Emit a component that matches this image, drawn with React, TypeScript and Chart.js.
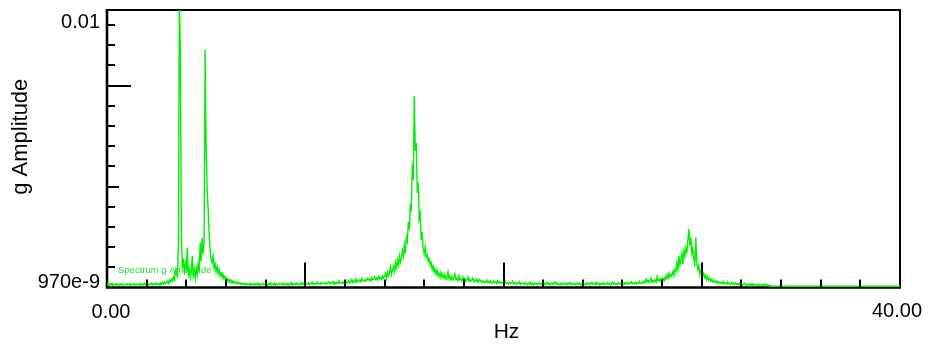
import { useEffect, useRef } from "react";
import { Chart, registerables } from "chart.js";

Chart.register(...registerables);

// ---- Data (amplitudes in units of 1e-4 g, sampled every 0.05 Hz) ----
const FREQ_START = 0;
const FREQ_STEP = 0.05;
const AMP_UNIT = 1e-4;

const ampBand0to10 = [
  0.9, 1.2, 0.7, 1.4, 1.0, 1.6, 0.8, 1.1, 1.3, 0.9, 1.5, 1.0, 1.2, 0.8, 1.4, 1.1, 0.9, 1.3, 1.0, 1.2,
  1.5, 0.9, 1.1, 1.4, 0.8, 1.2, 1.6, 1.0, 1.3, 0.9, 1.1, 1.5, 1.2, 0.8, 1.3, 1.0, 1.4, 1.1, 1.7, 1.0,
  1.2, 1.5, 0.9, 1.3, 1.1, 1.6, 1.0, 1.4, 1.2, 1.8, 1.1, 1.5, 1.3, 1.0, 1.7, 1.2, 1.9, 1.4, 2.2, 1.5,
  1.8, 2.4, 1.6, 2.8, 2.0, 3.2, 2.5, 4.0, 3.0, 6.5, 5.0, 4.2, 15.5, 110, 89.7, 22, 7.5, 11, 5.5, 9.0,
  6.0, 15, 5.0, 7.0, 3.8, 6.2, 12, 4.5, 6.8, 3.5, 7.5, 5.0, 9.0, 6.0, 17, 10, 19, 13, 18, 90.5,
  53, 38, 30, 21, 14, 11, 9.5, 12, 7.5, 9.0, 6.0, 8.0, 5.5, 7.0, 4.5, 6.0, 3.8, 5.0, 3.2, 4.2,
  2.8, 3.6, 2.4, 3.1, 2.0, 2.9, 1.8, 2.5, 1.6, 2.2, 1.9, 1.4, 2.1, 1.5, 1.8, 1.2, 1.7, 1.3, 1.6, 1.1,
  1.5, 1.0, 1.4, 1.2, 0.9, 1.6, 1.1, 1.3, 0.8, 1.5, 1.2, 1.0, 1.7, 1.1, 1.4, 0.9, 1.3, 1.6, 1.0, 1.2,
  1.4, 1.1, 0.9, 1.5, 1.2, 1.8, 1.0, 1.3, 1.1, 1.6, 0.9, 1.4, 1.2, 1.0, 1.5, 1.3, 1.1, 1.7, 1.2, 1.0,
  1.3, 1.6, 1.1, 1.4, 0.9, 1.2, 1.8, 1.0, 1.5, 1.3, 1.1, 1.7, 1.2, 1.4, 1.0, 1.6, 1.3, 1.9, 1.1, 1.4,
];

const ampBand10to20 = [
  1.2, 1.5, 1.3, 1.8, 1.1, 1.6, 1.4, 2.0, 1.2, 1.5, 1.7, 1.3, 2.1, 1.4, 1.6, 1.2, 1.9, 1.5, 1.3, 1.7,
  1.5, 1.9, 1.3, 1.7, 2.2, 1.4, 1.8, 1.6, 2.3, 1.5, 1.9, 1.4, 2.0, 1.7, 2.5, 1.6, 1.8, 2.1, 1.5, 2.0,
  1.7, 2.4, 1.6, 2.0, 2.8, 1.8, 2.2, 3.0, 1.9, 2.5, 2.1, 3.3, 2.0, 2.6, 2.3, 2.9, 2.2, 3.4, 2.5, 2.8,
  2.4, 3.1, 2.6, 3.5, 2.8, 3.2, 2.5, 3.8, 2.9, 3.3, 4.0, 3.0, 3.6, 2.8, 4.2, 3.4, 3.9, 3.1, 4.5, 3.6,
  4.0, 5.2, 3.6, 6.0, 4.4, 5.5, 7.8, 5.0, 6.5, 8.0, 6.2, 9.5, 7.4, 10.5, 8.5, 12.0, 9.5, 11.0, 14.0, 12.0,
  16.0, 13.0, 19.0, 17.5, 25.0, 22.0, 32.0, 29.0, 47.0, 41.0, 73.0, 52.0, 55.0, 36.0, 40.0, 26.0, 28.0, 18.0, 21.0, 14.5,
  13.0, 15.5, 11.5, 12.5, 10.0, 11.0, 8.5, 9.5, 7.0, 8.2, 6.0, 7.0, 5.0, 6.5, 4.5, 5.5, 3.8, 5.8, 4.0, 4.8,
  3.5, 5.0, 3.2, 4.2, 6.0, 3.4, 4.5, 3.0, 4.0, 2.8, 3.8, 5.2, 3.0, 3.6, 2.6, 4.4, 2.9, 3.3, 2.5, 3.9,
  2.7, 3.5, 2.4, 3.0, 4.0, 2.6, 3.2, 2.3, 2.9, 3.6, 2.2, 2.8, 2.5, 3.3, 2.1, 2.7, 3.1, 2.3, 2.6, 2.0,
  2.4, 1.8, 2.2, 2.9, 1.9, 2.3, 1.7, 2.6, 2.0, 1.6, 2.4, 1.9, 2.1, 1.5, 2.5, 1.8, 2.2, 1.6, 2.0, 1.7,
];

const ampBand20to30 = [
  1.9, 1.4, 2.2, 1.6, 1.8, 1.3, 2.0, 1.5, 1.7, 2.3, 1.4, 1.9, 1.6, 1.2, 1.8, 1.5, 2.1, 1.3, 1.7, 1.4,
  1.6, 1.2, 1.9, 1.4, 1.1, 1.7, 1.3, 2.0, 1.2, 1.5, 1.0, 1.8, 1.3, 1.6, 1.1, 1.4, 1.9, 1.2, 1.5, 1.0,
  1.3, 1.7, 1.1, 1.5, 1.9, 1.2, 1.6, 1.0, 1.4, 1.8, 1.2, 1.5, 2.2, 1.3, 1.7, 1.1, 1.4, 1.0, 1.6, 1.2,
  1.5, 1.1, 1.8, 1.3, 1.0, 1.6, 1.2, 1.9, 1.4, 1.1, 1.7, 1.3, 1.5, 0.9, 1.4, 1.8, 1.2, 1.6, 1.0, 1.3,
  1.7, 1.2, 1.4, 1.0, 1.8, 1.3, 1.6, 1.1, 1.5, 2.0, 1.2, 1.4, 1.7, 1.1, 1.9, 1.3, 1.5, 1.0, 1.6, 1.2,
  1.4, 1.8, 1.1, 1.5, 1.3, 1.9, 1.2, 1.6, 1.0, 1.4, 2.1, 1.3, 1.7, 1.2, 1.5, 1.1, 1.8, 1.4, 1.6, 1.3,
  1.9, 1.4, 1.7, 1.2, 2.0, 1.5, 1.3, 1.8, 1.6, 2.2, 1.4, 1.7, 1.5, 2.0, 1.3, 1.9, 1.6, 2.3, 1.5, 1.8,
  2.1, 1.6, 2.5, 1.9, 3.2, 2.2, 2.8, 1.8, 2.4, 3.6, 2.0, 2.7, 2.3, 3.0, 2.1, 4.2, 2.6, 3.1, 2.4, 3.4,
  2.8, 3.6, 2.6, 4.0, 3.2, 4.8, 3.5, 5.5, 4.0, 5.0, 4.4, 6.2, 5.0, 7.0, 6.0, 9.5, 7.0, 12.0, 8.5, 10.5,
  13.0, 9.0, 14.0, 12.0, 15.0, 13.5, 18.0, 22.4, 16.0, 19.0, 13.0, 15.0, 11.0, 8.0, 19.0, 9.0, 7.0, 8.5, 5.0, 6.5,
];

const ampBand30to40 = [
  6.0, 4.5, 5.5, 3.8, 4.6, 3.0, 4.2, 2.8, 3.5, 2.4, 3.0, 2.2, 2.8, 2.0, 2.5, 1.8, 2.4, 1.7, 2.1, 1.6,
  2.0, 1.5, 2.3, 1.4, 1.8, 1.3, 2.1, 1.5, 1.7, 1.2, 1.9, 1.4, 1.6, 1.1, 1.8, 1.3, 1.5, 1.0, 1.7, 1.2,
  1.4, 0.9, 1.2, 1.6, 0.8, 1.1, 1.4, 0.7, 1.0, 1.3, 0.8, 1.5, 0.9, 1.2, 0.7, 1.0, 1.3, 0.8, 1.1, 0.6,
  0.9, 1.2, 0.7, 1.0, 1.4, 0.8, 1.1, 0.6, 0.9, 0.7, 0.5, 0.5, 0.5, 0.5, 0.5, 0.5, 0.5, 0.5, 0.5, 0.5,
  0.5, 0.5, 0.5, 0.5, 0.5, 0.5, 0.5, 0.5, 0.5, 0.5, 0.5, 0.5, 0.5, 0.5, 0.5, 0.5, 0.5, 0.5, 0.5, 0.5,
  0.5, 0.5, 0.5, 0.5, 0.5, 0.5, 0.5, 0.5, 0.5, 0.5, 0.5, 0.5, 0.5, 0.5, 0.5, 0.5, 0.5, 0.5, 0.5, 0.5,
  0.5, 0.5, 0.5, 0.5, 0.5, 0.5, 0.5, 0.5, 0.5, 0.5, 0.5, 0.5, 0.5, 0.5, 0.5, 0.5, 0.5, 0.5, 0.5, 0.5,
  0.5, 0.5, 0.5, 0.5, 0.5, 0.5, 0.5, 0.5, 0.5, 0.5, 0.5, 0.5, 0.5, 0.5, 0.5, 0.5, 0.5, 0.5, 0.5, 0.5,
  0.5, 0.5, 0.5, 0.5, 0.5, 0.5, 0.5, 0.5, 0.5, 0.5, 0.5, 0.5, 0.5, 0.5, 0.5, 0.5, 0.5, 0.5, 0.5, 0.5,
  0.5, 0.5, 0.5, 0.5, 0.5, 0.5, 0.5, 0.5, 0.5, 0.5, 0.5, 0.5, 0.5, 0.5, 0.5, 0.5, 0.5, 0.5, 0.5, 0.5,
  0.5,
];

// ---- Axes ----
const X_MIN = 0;
const X_MAX = 40;
const Y_MIN = 970e-9;
const Y_MAX = 0.01057;
const Y_TOP_TICK = 0.01;
const Y_TICK_DIVISIONS = 13;
const Y_MAJOR_INDEX = 10;
const Y_MID_INDEX = 5;
const xMinorTicks = [2, 4, 6, 8, 12, 14, 16, 18, 22, 24, 26, 28, 32, 34, 36, 38];
const xMajorTicks = [10, 20, 30];
const xTickLabels = ["0.00", "40.00"];
const yTickLabels = ["970e-9", "0.01"];
const xTitle = "Hz";
const yTitle = "g Amplitude";
const legendLabel = "Spectrum g Amplitude";

const LINE_COLOR = "rgb(0, 240, 0)";
const TICK_FONT = '20px "Liberation Sans"';
const X_TITLE_FONT = '21px "Liberation Sans"';
const Y_TITLE_FONT = '22px "Liberation Sans"';

const spectrumAmps = [...ampBand0to10, ...ampBand10to20, ...ampBand20to30, ...ampBand30to40];
const spectrumPoints = spectrumAmps.map((v, i) => ({
  x: FREQ_START + i * FREQ_STEP,
  y: v * AMP_UNIT,
}));

const framePlugin = {
  id: "framePlugin",
  beforeDatasetsDraw(chart: any) {
    const { ctx, chartArea } = chart;
    const { left, right, top, bottom } = chartArea;
    ctx.save();
    ctx.strokeStyle = "#000";
    ctx.lineWidth = 2;
    ctx.beginPath();
    ctx.moveTo(left, top);
    ctx.lineTo(right, top);
    ctx.lineTo(right, bottom);
    ctx.stroke();
    ctx.lineWidth = 2.6;
    ctx.beginPath();
    ctx.moveTo(left, top - 1);
    ctx.lineTo(left, bottom);
    ctx.lineTo(right + 1, bottom);
    ctx.stroke();
    ctx.restore();
  },
  afterDatasetsDraw(chart: any) {
    const { ctx, chartArea } = chart;
    const { left, right, top, bottom } = chartArea;
    const xs = chart.scales.x;
    const ys = chart.scales.y;
    ctx.save();
    ctx.strokeStyle = "#000";
    ctx.lineWidth = 2;
    for (const v of xMinorTicks) {
      const px = Math.round(xs.getPixelForValue(v));
      ctx.beginPath();
      ctx.moveTo(px, bottom);
      ctx.lineTo(px, bottom - 8);
      ctx.stroke();
    }
    for (const v of xMajorTicks) {
      const px = Math.round(xs.getPixelForValue(v));
      ctx.beginPath();
      ctx.moveTo(px, bottom);
      ctx.lineTo(px, bottom - 25);
      ctx.stroke();
    }
    const step = (Y_TOP_TICK - Y_MIN) / Y_TICK_DIVISIONS;
    for (let k = 1; k <= Y_TICK_DIVISIONS; k++) {
      const py = Math.round(ys.getPixelForValue(Y_MIN + k * step));
      const len = k === Y_MAJOR_INDEX ? 24 : k === Y_MID_INDEX ? 12 : 8;
      ctx.beginPath();
      ctx.moveTo(left, py);
      ctx.lineTo(left + len, py);
      ctx.stroke();
    }
    ctx.fillStyle = "#000";
    ctx.font = TICK_FONT;
    ctx.textAlign = "right";
    ctx.textBaseline = "alphabetic";
    ctx.fillText(yTickLabels[1], left - 7, ys.getPixelForValue(Y_TOP_TICK) + 3);
    ctx.fillText(yTickLabels[0], left - 7, bottom);
    ctx.textAlign = "center";
    ctx.fillText(xTickLabels[0], xs.getPixelForValue(X_MIN) + 4, bottom + 30);
    ctx.fillText(xTickLabels[1], xs.getPixelForValue(X_MAX) - 3, bottom + 29);
    ctx.font = X_TITLE_FONT;
    ctx.fillText(xTitle, (left + right) / 2 + 3, bottom + 50);
    ctx.save();
    ctx.font = Y_TITLE_FONT;
    ctx.translate(27, (top + bottom) / 2 - 12);
    ctx.rotate(-Math.PI / 2);
    ctx.textAlign = "center";
    ctx.fillText(yTitle, 0, 0);
    ctx.restore();
    ctx.font = '9.5px "Liberation Sans"';
    ctx.fillStyle = "rgb(40, 220, 40)";
    ctx.textAlign = "left";
    ctx.textBaseline = "middle";
    ctx.fillText(legendLabel, left + 11, bottom - 17);
    ctx.restore();
  },
};

export default function App() {
  const ref = useRef<HTMLCanvasElement>(null);
  useEffect(() => {
    const canvas = ref.current;
    if (!canvas) return;
    const chart = new Chart(canvas, {
      type: "line",
      data: {
        datasets: [
          {
            label: legendLabel,
            data: spectrumPoints,
            borderColor: LINE_COLOR,
            borderWidth: 1.4,
            pointRadius: 0,
            tension: 0,
            fill: false,
          },
        ],
      },
      options: {
        animation: false,
        responsive: false,
        devicePixelRatio: 1,
        layout: { padding: { left: 107, top: 10, right: 29, bottom: 56.5 } },
        scales: {
          x: { type: "linear", min: X_MIN, max: X_MAX, display: false },
          y: { type: "linear", min: Y_MIN, max: Y_MAX, display: false },
        },
        plugins: {
          legend: { display: false },
          tooltip: { enabled: false },
        },
      },
      plugins: [framePlugin],
    });
    return () => chart.destroy();
  }, []);
  return (
    <div style={{ position: "absolute", left: 0, top: 0, width: 929, height: 344, background: "#fff" }}>
      <canvas ref={ref} width={929} height={344} style={{ display: "block", width: 929, height: 344 }} />
    </div>
  );
}
